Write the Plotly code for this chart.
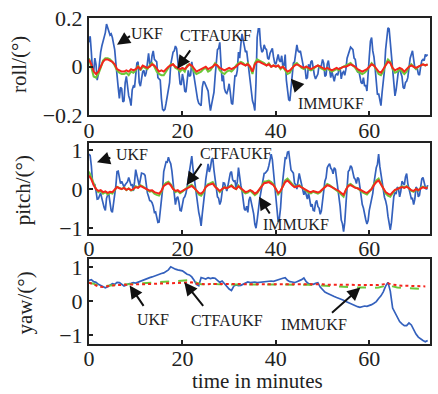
import plotly.graph_objects as go
from plotly.subplots import make_subplots

# ---------------- data ----------------
# roll UKF: values at 0, 0.5, 1.0 ... min and in-between values at 0.25, 0.75 ... min
roll_ukf = [0.10,0.06,-0.02,0.01,-0.03,0.06,0.10,0.14,0.16,0.13,
            0.12,0.07,-0.05,-0.13,-0.09,-0.14,-0.04,-0.12,-0.16,-0.08,
            -0.03,0.02,-0.08,-0.02,-0.04,0.03,0.01,0.045,0.03,0.02,
            -0.05,-0.13,-0.18,-0.15,-0.10,0.01,0.06,0.085,0.02,-0.07,
            -0.03,-0.10,-0.06,-0.04,0.02,-0.05,-0.12,-0.15,-0.16,-0.06,
            -0.08,-0.10,-0.18,-0.13,-0.04,0.07,0.10,-0.06,-0.09,-0.11,
            -0.07,-0.15,-0.10,-0.04,0.06,0.09,0.11,0.06,0.02,-0.06,
            -0.14,-0.18,0.12,0.155,0.06,0.09,0.07,0.03,0.07,0.04,
            0.01,0.05,0.02,0.00,0.05,-0.11,-0.14,-0.03,0.02,0.09,
            0.06,0.04,-0.01,-0.05,0.01,0.02,-0.01,-0.05,-0.03,0.00,
            0.03,-0.04,0.01,-0.01,-0.02,-0.06,-0.03,-0.01,-0.05,-0.02,
            -0.01,0.05,0.08,0.07,0.03,-0.02,-0.04,-0.07,-0.08,-0.10,
            0.04,0.12,0.04,-0.07,-0.11,-0.16,-0.07,0.07,0.16,0.10,
            -0.04,-0.12,-0.04,-0.01,-0.04,-0.09,-0.06,0.01,0.05,0.03,
            -0.01,-0.03,0.00,0.03,0.05,0.05]
roll_ukf_mid = [0.125,-0.015,0.035,-0.055,0.025,0.085,0.115,0.175,0.135,0.135,
                0.095,0.015,-0.085,-0.085,-0.145,-0.065,-0.085,-0.135,-0.095,-0.085,
                0.015,-0.065,-0.045,-0.015,-0.025,0.055,0.005,0.065,0.025,-0.045,
                -0.055,-0.175,-0.175,-0.125,-0.065,0.035,0.065,0.075,-0.025,-0.075,
                -0.055,-0.105,-0.015,-0.035,-0.015,-0.075,-0.135,-0.155,-0.085,-0.065,
                -0.095,-0.145,-0.155,-0.105,0.005,0.075,0.015,-0.035,-0.105,-0.095,
                -0.105,-0.155,-0.035,-0.015,0.035,0.135,0.075,0.065,-0.015,-0.105,
                -0.155,-0.065,0.155,0.085,0.065,0.075,0.035,0.055,0.075,0.015,
                0.035,0.025,0.045,0.005,-0.055,-0.135,-0.095,0.015,0.065,0.065,
                0.065,0.005,-0.005,-0.045,-0.015,0.025,-0.035,-0.035,0.005,0.005,
                0.015,-0.035,0.025,-0.045,-0.045,-0.035,-0.035,-0.005,-0.025,-0.035,
                0.035,0.055,0.075,0.035,-0.005,-0.015,-0.065,-0.045,-0.075,-0.045,
                0.105,0.065,-0.005,-0.115,-0.145,-0.105,-0.015,0.135,0.155,0.015,
                -0.075,-0.095,-0.015,-0.025,-0.085,-0.065,-0.045,0.035,0.065,-0.005,
                -0.005,-0.035,0.025,0.025,0.045]
# roll CTFAUKF / IMMUKF every 0.5 min
roll_ctf = [0.035,0.00,-0.04,-0.045,-0.03,-0.005,0.025,0.035,0.035,0.03,
            0.02,0.005,-0.015,-0.025,-0.03,-0.03,-0.025,-0.035,-0.02,-0.025,
            -0.015,0.005,-0.015,0.00,-0.005,-0.01,0.005,0.015,0.00,-0.02,
            -0.03,-0.035,-0.035,-0.02,0.00,0.01,0.01,-0.005,-0.01,-0.02,
            -0.01,-0.02,0.005,0.01,0.00,-0.02,-0.03,-0.025,-0.02,-0.01,
            -0.005,-0.02,-0.015,0.00,0.015,0.005,-0.015,-0.025,-0.03,-0.02,
            -0.015,-0.02,-0.01,0.005,0.015,0.02,0.015,0.005,0.015,-0.005,
            -0.03,0.015,0.03,0.025,0.02,0.015,0.005,0.015,0.00,0.005,
            0.00,0.005,-0.01,0.00,-0.015,-0.03,-0.025,-0.01,0.01,0.015,
            0.005,-0.005,-0.01,0.00,-0.01,-0.015,-0.01,0.00,0.005,-0.005,
            -0.01,-0.015,-0.005,-0.015,-0.02,-0.015,-0.01,-0.015,-0.005,0.00,
            0.005,0.01,0.015,0.005,-0.005,-0.02,-0.025,-0.03,-0.025,-0.015,
            0.00,0.015,0.005,-0.015,-0.03,-0.035,-0.02,0.01,0.03,0.02,
            -0.01,-0.025,-0.02,-0.01,-0.02,-0.03,-0.02,0.00,0.01,0.00,
            -0.01,0.00,0.005,0.01,0.005,0.01]
roll_imm = [0.03,0.01,-0.02,-0.03,-0.02,0.00,0.02,0.03,0.03,0.025,
            0.02,0.01,-0.01,-0.015,-0.02,-0.02,-0.015,-0.02,-0.01,-0.015,
            -0.01,0.00,-0.01,0.005,0.00,-0.005,0.00,0.01,0.005,-0.01,
            -0.02,-0.015,-0.02,-0.01,0.00,0.005,0.01,0.00,-0.005,-0.01,
            -0.005,-0.01,0.00,0.01,0.005,-0.01,-0.02,-0.015,-0.01,-0.005,
            0.00,-0.01,-0.005,0.00,0.01,0.005,-0.005,-0.01,-0.015,-0.01,
            -0.005,-0.01,-0.005,0.00,0.01,0.015,0.01,0.005,0.01,0.00,
            -0.02,0.01,0.02,0.02,0.015,0.01,0.005,0.01,0.00,0.005,
            0.00,0.005,-0.005,0.00,-0.01,-0.02,-0.015,-0.005,0.005,0.01,
            0.005,0.00,-0.005,0.00,-0.005,-0.01,-0.005,0.00,0.005,0.00,
            -0.005,-0.01,-0.005,-0.01,-0.015,-0.01,-0.005,-0.01,-0.005,0.00,
            0.00,0.005,0.01,0.005,0.00,-0.01,-0.015,-0.02,-0.015,-0.01,
            0.00,0.01,0.005,-0.01,-0.02,-0.025,-0.01,0.01,0.02,0.015,
            -0.005,-0.015,-0.01,-0.005,-0.01,-0.02,-0.01,0.00,0.005,0.00,
            -0.005,0.00,0.005,0.01,0.005,0.01]

# pitch UKF: values at 0, 0.5 ... min and in-between values at 0.25, 0.75 ... min
pitch_ukf = [0.90,0.60,0.10,-0.05,-0.25,-0.10,-0.40,-0.55,-0.15,-0.35,
             -0.60,-0.20,0.45,0.30,0.20,0.05,0.15,0.30,0.10,-0.05,
             0.50,0.20,0.25,0.40,0.35,-0.10,-0.30,-0.35,-0.60,-0.75,
             -0.85,-0.40,0.45,0.70,0.82,0.65,0.10,-0.40,-0.20,-0.55,
             -0.35,-0.20,0.05,0.40,0.85,0.30,-0.10,-0.60,-0.95,-0.40,
             0.25,0.65,0.55,0.80,0.25,-0.20,-0.40,0.00,0.15,-0.05,
             0.30,0.45,0.20,0.00,0.55,0.10,-0.35,-0.55,-0.60,-0.20,
             -0.45,-0.90,-0.80,-0.30,0.10,0.40,0.45,0.60,0.90,0.40,
             -0.20,-0.85,-0.50,0.20,0.80,0.95,0.75,0.45,0.15,0.00,
             0.40,0.10,-0.15,-0.20,-0.10,-0.45,-0.55,-0.35,-0.45,-0.65,
             -0.25,0.20,0.55,0.65,0.50,0.55,0.30,-0.15,-0.80,-1.10,
             -0.40,0.45,0.60,0.40,0.25,0.30,0.05,-0.40,-0.70,-0.90,
             -0.55,-0.30,0.15,0.55,0.90,0.40,-0.10,-0.30,-0.70,-1.05,
             -0.50,-0.10,0.05,-0.20,0.20,0.10,0.40,0.00,-0.25,-0.40,
             0.05,-0.20,0.10,0.30,0.05,0.10]
pitch_ukf_mid = [0.86,0.19,0.11,-0.26,-0.18,-0.24,-0.48,-0.24,-0.14,-0.56,
                 -0.39,0.09,0.46,0.14,0.09,0.11,0.19,0.21,0.11,0.19,
                 0.36,0.09,0.41,0.39,0.04,-0.19,-0.31,-0.44,-0.59,-0.86,
                 -0.59,-0.01,0.61,0.69,0.72,0.46,-0.21,-0.24,-0.34,-0.56,
                 -0.24,-0.11,0.26,0.59,0.54,0.16,-0.41,-0.74,-0.64,-0.11,
                 0.51,0.44,0.76,0.49,-0.06,-0.24,-0.31,0.16,0.06,0.09,
                 0.41,0.24,0.21,0.19,0.29,-0.04,-0.51,-0.44,-0.29,-0.36,
                 -0.64,-1.01,-0.49,-0.11,0.24,0.41,0.49,0.81,0.76,0.04,
                 -0.49,-0.76,-0.04,0.44,0.79,0.96,0.49,0.41,0.11,0.19,
                 0.26,-0.06,-0.04,-0.26,-0.31,-0.39,-0.56,-0.29,-0.49,-0.56,
                 0.06,0.29,0.61,0.54,0.39,0.51,0.04,-0.44,-0.89,-0.86,
                 0.11,0.49,0.56,0.29,0.14,0.26,-0.21,-0.49,-0.79,-0.81,
                 -0.39,-0.11,0.41,0.64,0.59,0.21,-0.21,-0.44,-0.84,-0.86,
                 -0.19,-0.11,0.01,-0.06,0.14,0.31,0.14,-0.09,-0.24,-0.26,
                 0.01,-0.16,0.26,0.14,-0.01]
pitch_ctf = [0.45,0.30,0.12,0.00,-0.08,-0.05,-0.12,-0.08,-0.14,-0.10,
             -0.12,-0.04,0.06,0.03,0.00,0.04,-0.03,0.02,-0.04,-0.01,
             0.07,0.04,0.10,0.07,0.02,-0.04,-0.07,-0.05,-0.12,-0.15,
             -0.17,-0.08,0.10,0.16,0.19,0.12,0.00,-0.08,-0.05,-0.11,
             -0.07,-0.01,0.04,0.08,0.11,0.04,-0.07,-0.14,-0.17,-0.09,
             0.06,0.13,0.15,0.18,0.08,-0.01,-0.08,-0.01,0.05,0.02,
             0.06,0.10,0.04,0.00,0.09,0.02,-0.07,-0.11,-0.09,-0.04,
             -0.09,-0.16,-0.11,0.00,0.12,0.19,0.20,0.22,0.18,0.12,
             0.00,-0.14,-0.07,0.10,0.22,0.27,0.19,0.12,0.06,0.07,
             0.10,0.05,-0.01,-0.05,-0.09,-0.11,-0.07,-0.10,-0.12,-0.08,
             0.00,0.07,0.13,0.10,0.06,0.02,-0.04,-0.08,-0.14,-0.20,
             -0.03,0.10,0.13,0.08,0.04,0.02,-0.04,-0.08,-0.11,-0.14,
             -0.07,0.00,0.13,0.22,0.27,0.15,0.02,-0.11,-0.17,-0.20,
             -0.11,-0.03,0.00,0.03,0.07,0.04,0.08,0.02,-0.05,-0.07,
             0.00,-0.04,0.03,0.06,0.03,0.05]
pitch_imm = [0.35,0.25,0.10,0.00,-0.05,-0.03,-0.08,-0.06,-0.10,-0.07,
             -0.08,-0.02,0.05,0.02,0.00,0.03,-0.02,0.01,-0.03,0.00,
             0.05,0.03,0.08,0.05,0.02,-0.02,-0.04,-0.03,-0.08,-0.10,
             -0.12,-0.05,0.08,0.12,0.15,0.10,0.00,-0.05,-0.03,-0.08,
             -0.05,0.00,0.03,0.06,0.08,0.03,-0.05,-0.10,-0.12,-0.06,
             0.05,0.10,0.12,0.14,0.06,0.00,-0.05,0.00,0.04,0.02,
             0.05,0.08,0.03,0.00,0.07,0.02,-0.05,-0.08,-0.06,-0.03,
             -0.06,-0.12,-0.08,0.00,0.10,0.15,0.16,0.18,0.14,0.10,
             0.00,-0.10,-0.05,0.08,0.18,0.22,0.15,0.10,0.05,0.06,
             0.08,0.04,0.00,-0.03,-0.06,-0.08,-0.05,-0.07,-0.09,-0.06,
             0.00,0.05,0.10,0.08,0.05,0.02,-0.02,-0.05,-0.10,-0.15,
             -0.02,0.08,0.10,0.06,0.03,0.02,-0.02,-0.05,-0.08,-0.10,
             -0.05,0.00,0.10,0.18,0.22,0.12,0.02,-0.08,-0.12,-0.15,
             -0.08,-0.02,0.00,0.02,0.05,0.03,0.06,0.02,-0.03,-0.05,
             0.00,-0.03,0.02,0.05,0.02,0.04]

# yaw: UKF every 0.5 min, CTFAUKF / IMMUKF every 1 min
yaw_ukf = [0.62,0.64,0.58,0.56,0.50,0.47,0.42,0.40,0.43,0.48,
           0.52,0.50,0.56,0.55,0.50,0.45,0.48,0.52,0.53,0.55,
           0.54,0.57,0.60,0.63,0.66,0.68,0.70,0.72,0.75,0.78,
           0.80,0.82,0.84,0.88,0.93,1.02,0.98,0.95,0.93,0.91,
           0.90,0.85,0.80,0.78,0.72,0.62,0.50,0.46,0.70,0.68,
           0.66,0.70,0.67,0.69,0.68,0.62,0.56,0.60,0.52,0.42,
           0.36,0.32,0.45,0.48,0.46,0.47,0.50,0.55,0.57,0.55,
           0.56,0.57,0.55,0.56,0.57,0.56,0.58,0.58,0.60,0.59,
           0.62,0.63,0.66,0.68,0.70,0.62,0.58,0.57,0.55,0.58,
           0.60,0.64,0.69,0.58,0.52,0.51,0.50,0.53,0.55,0.42,
           0.33,0.27,0.24,0.20,0.17,0.14,0.11,0.09,0.06,0.03,
           -0.01,-0.04,-0.08,-0.12,-0.14,-0.16,-0.18,-0.16,-0.14,-0.15,
           -0.13,-0.10,-0.06,-0.01,0.08,0.16,0.28,0.45,0.56,0.30,
           -0.20,-0.35,-0.48,-0.60,-0.67,-0.72,-0.72,-0.64,-0.70,-0.86,
           -0.97,-1.06,-1.12,-1.16,-1.20,-1.16]
yaw_ctf = [0.55,0.52,0.46,0.44,0.46,0.48,0.49,0.50,0.50,0.51,
           0.52,0.52,0.53,0.54,0.55,0.56,0.57,0.58,0.59,0.60,
           0.61,0.62,0.63,0.55,0.50,0.50,0.51,0.51,0.50,0.50,
           0.49,0.50,0.50,0.51,0.51,0.50,0.51,0.50,0.50,0.50,
           0.50,0.50,0.51,0.50,0.50,0.49,0.50,0.49,0.48,0.47,
           0.46,0.45,0.44,0.43,0.42,0.42,0.41,0.41,0.41,0.40,
           0.40,0.40,0.41,0.44,0.50,0.44,0.41,0.40,0.39,0.38,
           0.37,0.37,0.36]
yaw_imm = [0.55,0.50,0.44,0.42,0.45,0.47,0.48,0.49,0.49,0.50,
           0.50,0.50,0.51,0.51,0.52,0.52,0.53,0.53,0.54,0.54,
           0.55,0.56,0.56,0.52,0.50,0.50,0.51,0.51,0.51,0.50,
           0.50,0.51,0.51,0.51,0.52,0.51,0.51,0.51,0.51,0.50,
           0.51,0.51,0.52,0.51,0.51,0.50,0.51,0.51,0.50,0.50,
           0.50,0.49,0.49,0.49,0.48,0.48,0.48,0.47,0.47,0.47,
           0.47,0.47,0.48,0.50,0.53,0.49,0.47,0.46,0.46,0.45,
           0.45,0.45,0.44]

x_ticks = [0, 20, 40, 60]
y_titles = ["roll/(°)", "pitch/(°)", "yaw/(°)"]


def times(vals, step):
    return [i * step for i in range(len(vals))]


def merge(main, mid, step):
    """Interleave samples taken at k*step and (k+0.5)*step."""
    xs, ys = [], []
    for i, v in enumerate(main):
        xs.append(i * step)
        ys.append(v)
        if i < len(mid):
            xs.append(i * step + step / 2)
            ys.append(mid[i])
    return xs, ys


# ---------------- figure ----------------
FONT = "Liberation Serif, Times New Roman, serif"
BLUE = "#3461bd"
GREEN = "#6cc83a"
RED = "#f5241c"

fig = make_subplots(rows=3, cols=1)

rx, ry = merge(roll_ukf, roll_ukf_mid, 0.5)
px_, py_ = merge(pitch_ukf, pitch_ukf_mid, 0.5)
panels = [
    ((rx, ry), (times(roll_ctf, 0.5), roll_ctf), (times(roll_imm, 0.5), roll_imm), "solid", "solid"),
    ((px_, py_), (times(pitch_ctf, 0.5), pitch_ctf), (times(pitch_imm, 0.5), pitch_imm), "solid", "solid"),
    ((times(yaw_ukf, 0.5), yaw_ukf), (times(yaw_ctf, 1.0), yaw_ctf), (times(yaw_imm, 1.0), yaw_imm), "dash", "dot"),
]
for r, (u, c, m, dc, dm) in enumerate(panels, start=1):
    fig.add_trace(go.Scatter(x=u[0], y=u[1], mode="lines", name="UKF",
                             line=dict(color=BLUE, width=1.7)), row=r, col=1)
    fig.add_trace(go.Scatter(x=c[0], y=c[1], mode="lines", name="CTFAUKF",
                             line=dict(color=GREEN, width=2, dash=dc)), row=r, col=1)
    fig.add_trace(go.Scatter(x=m[0], y=m[1], mode="lines", name="IMMUKF",
                             line=dict(color=RED, width=2, dash=dm)), row=r, col=1)

domains = [[0.7012, 1.0], [0.3384, 0.6159], [0.0, 0.2622]]
yranges = [[-0.2, 0.2], [-1.15, 1.18], [-1.265, 1.265]]
ytickvals = [[-0.2, 0, 0.2], [-1, 0, 1], [-1, 0, 1]]
yticktext = [["−0.2", "0", "0.2"], ["−1", "0", "1"], ["−1", "0", "1"]]

for i in range(3):
    xa = "xaxis" if i == 0 else f"xaxis{i+1}"
    ya = "yaxis" if i == 0 else f"yaxis{i+1}"
    fig.layout[xa].update(domain=[0, 1], range=[0, 73], tickvals=x_ticks,
                          ticks="inside", ticklen=4, tickwidth=1.5, tickcolor="#222",
                          showline=True, linecolor="#222", linewidth=2, mirror=True,
                          showgrid=False, zeroline=False, ticklabelstandoff=-6,
                          tickfont=dict(family=FONT, size=22, color="#222"))
    fig.layout[ya].update(domain=domains[i], range=yranges[i], tickvals=ytickvals[i],
                          ticktext=yticktext[i],
                          ticks="inside", ticklen=4, tickwidth=1.5, tickcolor="#222",
                          showline=True, linecolor="#222", linewidth=2, mirror=True,
                          showgrid=False, zeroline=False,
                          tickfont=dict(family=FONT, size=22, color="#222"))

ann = []
# y-axis titles
for txt, pxp, pyp in zip(y_titles, [-0.207, -0.195, -0.187], [0.857, 0.47, 0.125]):
    ann.append(dict(text=txt, xref="paper", yref="paper", x=pxp, y=pyp, showarrow=False,
                    textangle=-90, xanchor="center", yanchor="middle",
                    font=dict(family=FONT, size=21, color="#222")))
ann.append(dict(text="time in minutes", xref="paper", yref="paper", x=0.493, y=-0.113,
                showarrow=False, xanchor="center", yanchor="middle",
                font=dict(family=FONT, size=21, color="#222")))

# labels with arrows: (axis suffix, text, text_x, text_y, tail_x, tail_y, head_x, head_y)
labels = [
    ("", "UKF", 12.4, 0.135, 9.1, 0.13, 6.0, 0.09),
    ("", "CTFAUKF", 27.2, 0.127, 21.9, 0.073, 18.9, -0.008),
    ("", "IMMUKF", 51.7, -0.151, 45.3, -0.094, 43.2, -0.049),
    ("2", "UKF", 9.1, 0.9, 4.9, 0.82, 1.7, 0.69),
    ("2", "CTFAUKF", 31.5, 0.92, 24.3, 0.69, 20.9, 0.10),
    ("2", "IMMUKF", 44.3, -0.92, 38.9, -0.67, 36.4, -0.2),
    ("3", "UKF", 13.6, -0.53, 11.9, -0.18, 8.7, 0.47),
    ("3", "CTFAUKF", 29.6, -0.56, 24.7, -0.18, 20.4, 0.56),
    ("3", "IMMUKF", 48.1, -0.68, 51.7, -0.38, 58.1, 0.41),
]
for s, txt, tx, ty, ax_, ay_, hx, hy in labels:
    ann.append(dict(text=txt, xref="x" + s, yref="y" + s, x=tx, y=ty, showarrow=False,
                    xanchor="center", yanchor="middle",
                    font=dict(family=FONT, size=16, color="#222")))
    ann.append(dict(text="", xref="x" + s, yref="y" + s, x=hx, y=hy,
                    axref="x" + s, ayref="y" + s, ax=ax_, ay=ay_,
                    showarrow=True, arrowhead=2, arrowsize=1.3, arrowwidth=2,
                    arrowcolor="#111"))

fig.update_layout(width=438, height=394, margin=dict(l=89, r=6, t=16, b=50),
                  paper_bgcolor="white", plot_bgcolor="white", showlegend=False,
                  annotations=ann, font=dict(family=FONT, color="#222"))

fig.write_html("out.html")
